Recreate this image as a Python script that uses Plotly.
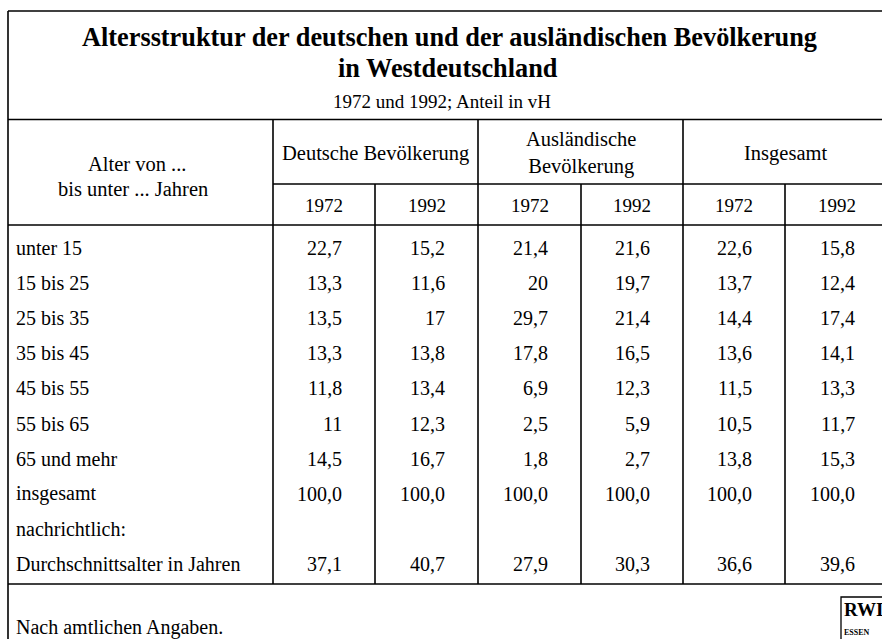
import plotly.graph_objects as go

# ---------------- data ----------------
title_lines = ["Altersstruktur der deutschen und der ausländischen Bevölkerung",
               "in Westdeutschland"]
subtitle = "1972 und 1992; Anteil in vH"
row_header = ["Alter von ...", "bis unter ... Jahren"]
groups = ["Deutsche Bevölkerung", "Ausländische<br>Bevölkerung", "Insgesamt"]
years = ["1972", "1992"]
row_labels = ["unter 15", "15 bis 25", "25 bis 35", "35 bis 45", "45 bis 55",
              "55 bis 65", "65 und mehr", "insgesamt", "nachrichtlich:",
              "Durchschnittsalter in Jahren"]
deutsche_1972 = [22.7, 13.3, 13.5, 13.3, 11.8, 11, 14.5, 100.0, None, 37.1]
deutsche_1992 = [15.2, 11.6, 17, 13.8, 13.4, 12.3, 16.7, 100.0, None, 40.7]
auslaender_1972 = [21.4, 20, 29.7, 17.8, 6.9, 2.5, 1.8, 100.0, None, 27.9]
auslaender_1992 = [21.6, 19.7, 21.4, 16.5, 12.3, 5.9, 2.7, 100.0, None, 30.3]
insgesamt_1972 = [22.6, 13.7, 14.4, 13.6, 11.5, 10.5, 13.8, 100.0, None, 36.6]
insgesamt_1992 = [15.8, 12.4, 17.4, 14.1, 13.3, 11.7, 15.3, 100.0, None, 39.6]
source_note = "Nach amtlichen Angaben."
logo_text = ["RWI", "ESSEN"]

columns = [deutsche_1972, deutsche_1992, auslaender_1972,
           auslaender_1992, insgesamt_1972, insgesamt_1992]

# ---------------- layout geometry ----------------
W, H = 882, 639
FONT = "Liberation Serif"
LW = 1.6
col_edges = [273, 375, 478, 581, 683, 785, 888]
left, top = 8, 11
y_sub_line, y_grp_line, y_head_line, y_bottom = 119.5, 184, 225, 584
row_y0, row_dy = 247.5, 35.2


def fmt(v):
    if v is None:
        return ""
    if isinstance(v, int):
        return str(v)
    return f"{v:.1f}".replace(".", ",")


fig = go.Figure()
# invisible trace to activate axes
fig.add_trace(go.Scatter(x=[0, W], y=[0, H], mode="markers",
                         marker=dict(opacity=0), hoverinfo="skip",
                         showlegend=False))

shapes = []


def hline(y, x0, x1):
    shapes.append(dict(type="line", x0=x0, x1=x1, y0=y, y1=y,
                       xref="x", yref="y", line=dict(color="black", width=LW)))


def vline(x, y0, y1):
    shapes.append(dict(type="line", x0=x, x1=x, y0=y0, y1=y1,
                       xref="x", yref="y", line=dict(color="black", width=LW)))


hline(top, left, W + 10)
hline(y_sub_line, left, W + 10)
hline(y_grp_line, col_edges[0], W + 10)
hline(y_head_line, left, W + 10)
hline(y_bottom, left, W + 10)
vline(left, top, H + 10)
for i, x in enumerate(col_edges[:-1]):
    vline(x, y_sub_line if i % 2 == 0 else y_grp_line, y_bottom)

# logo box
shapes.append(dict(type="rect", x0=841, x1=W + 20, y0=597, y1=H + 20,
                   xref="x", yref="y", line=dict(color="black", width=1.3)))

ann = []


def text(x, y, s, size=20, xanchor="center", bold=False, color="black"):
    ann.append(dict(x=x, y=y, xref="x", yref="y", text=f"<b>{s}</b>" if bold else s,
                    showarrow=False, xanchor=xanchor, yanchor="middle",
                    font=dict(family=FONT, size=size, color=color)))


text(449, 37, title_lines[0], size=26.3, bold=True)
text(448, 68, title_lines[1], size=26.3, bold=True)
text(442, 101, subtitle, size=19)

text(137, 164, row_header[0], size=20.5)
text(133, 189, row_header[1], size=20.5)
for g, name in enumerate(groups):
    cx = (col_edges[2 * g] + col_edges[2 * g + 2]) / 2
    text(cx, 153, name, size=20.5)
    for k, yr in enumerate(years):
        c = 2 * g + k
        text((col_edges[c] + col_edges[c + 1]) / 2, 205, yr, size=19)

for r, lab in enumerate(row_labels):
    y = row_y0 + r * row_dy
    text(14, y, lab, size=20, xanchor="left")
    for c, col in enumerate(columns):
        text(col_edges[c + 1] - 31, y, fmt(col[r]), size=20, xanchor="right")

text(14, 627, source_note, size=20, xanchor="left")
text(842, 609, logo_text[0], size=19, xanchor="left", bold=True)
text(842, 632, logo_text[1], size=8, xanchor="left", bold=True)

fig.update_layout(
    width=W, height=H, margin=dict(l=0, r=0, t=0, b=0),
    paper_bgcolor="white", plot_bgcolor="white",
    xaxis=dict(range=[0, W], visible=False, fixedrange=True),
    yaxis=dict(range=[H, 0], visible=False, fixedrange=True),
    shapes=shapes, annotations=ann, showlegend=False,
)
fig.write_html("out.html", config={"displayModeBar": False},
               post_script="document.body.style.margin='0';"
                           "document.body.style.overflow='hidden';")
